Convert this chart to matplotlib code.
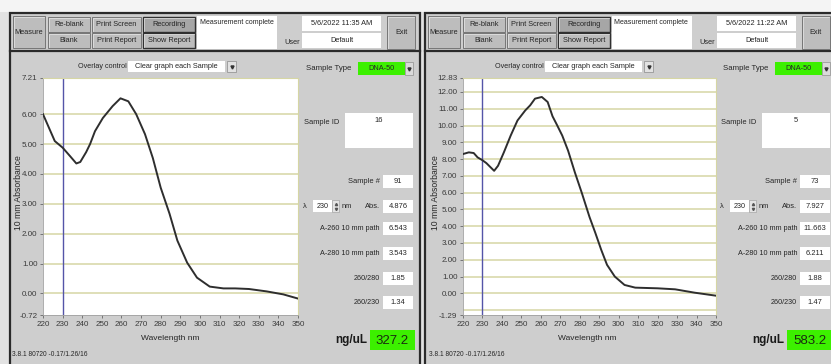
import matplotlib
matplotlib.use('Agg')
import matplotlib.pyplot as plt
from matplotlib.patches import Rectangle
from matplotlib import font_manager

W, H = 831, 364

# ---------------- data ----------------
wavelength_ticks = list(range(220, 351, 10))

left_wavelength = [220, 223, 226, 230, 234, 237, 239, 242, 244, 246.5, 250.5, 255.5, 259.5,
                   263.5, 267.5, 272, 276, 280, 284.5, 288.5, 293.5, 298.5, 305, 312, 318,
                   325, 334, 342.5, 350]
left_absorbance = [6.00, 5.55, 5.10, 4.88, 4.58, 4.35, 4.40, 4.73, 5.00, 5.43, 5.87, 6.27, 6.53,
                   6.43, 6.00, 5.33, 4.53, 3.54, 2.67, 1.77, 1.03, 0.53, 0.23, 0.17, 0.17,
                   0.15, 0.07, -0.03, -0.17]

right_wavelength = [220, 223, 225.5, 227.5, 230, 232, 236, 238, 241, 244.5, 248, 252, 254.5,
                    257, 260.5, 263.5, 266, 268, 271, 274, 277.5, 281, 285, 288, 291, 294, 298,
                    303, 308.5, 320, 329, 339, 350]
right_absorbance = [8.30, 8.40, 8.36, 8.10, 7.93, 7.76, 7.30, 7.60, 8.40, 9.40, 10.30, 10.90, 11.20,
                    11.60, 11.70, 11.40, 10.55, 10.10, 9.40, 8.50, 7.20, 6.00, 4.55, 3.60, 2.60,
                    1.70, 1.00, 0.50, 0.34, 0.30, 0.24, 0.04, -0.14]

left_ylim = (-0.72, 7.21)
right_ylim = (-1.29, 12.83)
left_yticks = [-0.72, 0, 1, 2, 3, 4, 5, 6, 7.21]
right_yticks = [-1.29, 0, 1, 2, 3, 4, 5, 6, 7, 8, 9, 10, 11, 12, 12.83]
left_grid = [0, 1, 2, 3, 4, 5, 6]
right_grid = [-1, 0, 1, 2, 3, 4, 5, 6, 7, 8, 9, 10, 11, 12]

dates = ["5/6/2022 11:35 AM", "5/6/2022 11:22 AM"]
sample_ids = ["16", "5"]
sample_numbers = ["91", "73"]
abs_230 = ["4.876", "7.927"]
ratio_labels = ["A-260 10 mm path", "A-280 10 mm path", "260/280", "260/230"]
left_ratio_values = ["6.543", "3.543", "1.85", "1.34"]
right_ratio_values = ["11.663", "6.211", "1.88", "1.47"]
concentrations = ["327.2", "583.2"]
version_text = "3.8.1 80720 -0.17/1.26/16"

# ---------------- style ----------------
names = {f.name for f in font_manager.fontManager.ttflist}
main_font = 'Liberation Sans Narrow' if 'Liberation Sans Narrow' in names else 'Liberation Sans'
plt.rcParams['font.family'] = [main_font, 'DejaVu Sans']

BODY = '#cecece'
BTN = '#bdbdbd'
DARK = '#2a2a2a'
GREEN = '#3cf000'
GRID = '#d6d6a4'
TXT = '#262626'

fig = plt.figure(figsize=(W / 100, H / 100), dpi=100)
fig.patch.set_facecolor('#e2e2e2')
bg = fig.add_axes([0, 0, 1, 1])
bg.set_xlim(0, W)
bg.set_ylim(H, 0)
bg.axis('off')


def rect(x0, y0, x1, y1, fc, ec='none', lw=0.0, z=1):
    bg.add_patch(Rectangle((x0, y0), x1 - x0, y1 - y0, facecolor=fc, edgecolor=ec,
                           linewidth=lw, zorder=z))


def text(x, y, s, size=5.6, ha='center', color=TXT, weight='normal', rot=0, z=6):
    bg.text(x, y, s, fontsize=size, ha=ha, va='center', color=color, fontweight=weight,
            rotation=rot, zorder=z)


def button(x0, y0, x1, y1, label, fc=BTN, dark=False):
    rect(x0, y0, x1, y1, fc, ec=('#303030' if dark else '#6a6a6a'), lw=(1.0 if dark else 0.6), z=2)
    bg.plot([x0 + 1, x0 + 1, x1 - 1], [y1 - 1, y0 + 1, y0 + 1], color='#e8e8e8', lw=0.5, zorder=3)
    text((x0 + x1) / 2, (y0 + y1) / 2 + 0.3, label, size=5.3)


rect(0, 0, W, 12, '#f4f4f4', z=0)


def draw_panel(ox, bx, date, sid, snum, a230, ratio_values, conc, ax_box, wl, ab, ylim, yticks, grid):
    # frame and toolbar
    rect(ox + 10, 13, ox + 420, 372, BODY, ec=DARK, lw=1.6, z=0.5)
    bg.plot([ox + 10, ox + 420], [50.5, 50.5], color=DARK, lw=1.6, zorder=2)
    button(ox + 13, 16, ox + 45, 48, 'Measure')
    button(ox + 48, 17, ox + 90, 32, 'Re-blank')
    button(ox + 48, 33, ox + 90, 48, 'Blank')
    button(ox + 92, 17, ox + 141, 32, 'Print Screen')
    button(ox + 92, 33, ox + 141, 48, 'Print Report')
    button(ox + 143, 17, ox + 195, 32, 'Recording', fc='#a6a6a6', dark=True)
    button(ox + 143, 33, ox + 195, 48, 'Show Report', dark=True)
    rect(ox + 197, 16, ox + 277, 49, 'white', z=2)
    text(ox + 199.5, 22.5, 'Measurement complete', ha='left', size=5.0)
    text(ox + 292, 42, 'User', size=5.3)
    rect(ox + 302, 16, ox + 381, 31, 'white', z=2)
    text(ox + 341.5, 23.5, date, size=5.3)
    rect(ox + 302, 33, ox + 381, 48, 'white', z=2)
    text(ox + 341.5, 40.5, 'Default', size=5.3)
    button(ox + 387, 16, ox + 415, 49, 'Exit')

    # overlay control
    text(bx + 102, 66.5, 'Overlay control', size=5.2)
    rect(bx + 128, 61, bx + 225, 72, 'white', z=2)
    text(bx + 176.5, 66.5, 'Clear graph each Sample', size=5.3)
    rect(bx + 227, 61, bx + 236, 72, '#e2e2e2', ec='#8a8a8a', lw=0.5, z=2)
    bg.plot([bx + 231.5], [66.5], marker='v', ms=2.2, color='#333333', zorder=4)

    # sample information
    text(bx + 329, 68.5, 'Sample Type')
    rect(bx + 358, 62, bx + 405, 75, GREEN, z=2)
    text(bx + 381.5, 68.5, 'DNA-50', size=5.3)
    rect(bx + 405, 62, bx + 413, 75, '#dadada', ec='#909090', lw=0.5, z=2)
    bg.plot([bx + 409], [68.5], marker='v', ms=2.2, color='#333333', zorder=4)

    text(bx + 322, 122, 'Sample ID', size=5.4)
    rect(bx + 345, 113, bx + 413, 148, 'white', z=2)
    text(bx + 379, 120, sid, size=5.4)

    text(bx + 380, 181.5, 'Sample #', ha='right', size=5.4)
    rect(bx + 383, 175, bx + 413, 188, 'white', z=2)
    text(bx + 398, 181.5, snum, size=5.4)

    text(bx + 305, 206, 'λ', size=5.4)
    rect(bx + 313, 200, bx + 332, 212, 'white', z=2)
    text(bx + 322.5, 206, '230', size=5.2)
    rect(bx + 332, 200, bx + 339, 212, '#e4e4e4', ec='#9a9a9a', lw=0.4, z=2)
    bg.plot([bx + 335.5], [203.5], marker='^', ms=1.6, color='#555555', zorder=4)
    bg.plot([bx + 335.5], [208.5], marker='v', ms=1.6, color='#555555', zorder=4)
    text(bx + 347, 206, 'nm', size=5.4)
    text(bx + 380, 206.5, 'Abs.', ha='right', size=5.4)
    rect(bx + 383, 200, bx + 413, 213, 'white', z=2)
    text(bx + 398, 206.5, a230, size=5.4)

    for yc, lab, val in zip([228.5, 253.5, 278.5, 302.5], ratio_labels, ratio_values):
        text(bx + 380, yc, lab, ha='right', size=5.2)
        rect(bx + 383, yc - 6.5, bx + 413, yc + 6.5, 'white', z=2)
        text(bx + 398, yc, val, size=5.4)

    text(bx + 367, 340, 'ng/uL', ha='right', size=8.5, weight='bold', color='#1a1a1a')
    rect(bx + 370, 330, bx + 415, 350, GREEN, z=2)
    text(bx + 392.5, 340.5, conc, size=9.5, color='#1a2a10')

    # axis texts
    text(bx + 19, 193, '10 mm Absorbance', size=6.2, rot=90)
    text(bx + 170, 338, 'Wavelength nm', size=6)
    text(bx + 12, 354, version_text, ha='left', size=4.8)

    # spectrum plot
    x0, y0, x1, y1 = ax_box
    ax = fig.add_axes([x0 / W, 1 - y1 / H, (x1 - x0) / W, (y1 - y0) / H])
    ax.set_facecolor('white')
    ax.set_xlim(220, 350)
    ax.set_ylim(*ylim)
    for g in grid:
        ax.axhline(g, color=GRID, lw=1.1, zorder=1)
    ax.axvline(230, color='#5454a8', lw=1.0, zorder=2)
    ax.plot(wl, ab, color='#2e2e2e', lw=1.4, zorder=3, solid_joinstyle='round')
    ax.set_xticks(wavelength_ticks)
    ax.set_xticklabels([str(t) for t in wavelength_ticks])
    ax.set_yticks(yticks)
    ax.set_yticklabels(['%.2f' % t for t in yticks])
    ax.tick_params(direction='out', length=2.5, width=0.6, color='#666666', labelsize=5.8,
                   labelcolor='#3a3a3a', pad=1.5)
    for s in ['left', 'bottom']:
        ax.spines[s].set_color('#a0a0a0')
        ax.spines[s].set_linewidth(0.6)
    for s in ['top', 'right']:
        ax.spines[s].set_color(GRID)
        ax.spines[s].set_linewidth(0.8)
    return ax


draw_panel(0, 0, dates[0], sample_ids[0], sample_numbers[0], abs_230[0], left_ratio_values,
           concentrations[0], (43, 78, 298, 315), left_wavelength, left_absorbance,
           left_ylim, left_yticks, left_grid)
draw_panel(415, 417, dates[1], sample_ids[1], sample_numbers[1], abs_230[1], right_ratio_values,
           concentrations[1], (463, 78, 716, 315), right_wavelength, right_absorbance,
           right_ylim, right_yticks, right_grid)

fig.savefig('out.png', dpi=100, facecolor=fig.get_facecolor())
